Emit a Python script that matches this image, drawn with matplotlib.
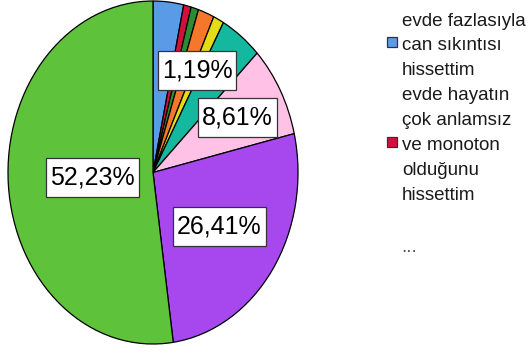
"""Pie chart of survey answers with SPSS-style boxed percentage labels."""

import matplotlib
matplotlib.use('Agg')
import matplotlib.pyplot as plt
import numpy as np
from matplotlib.patches import Rectangle
from matplotlib.path import Path


# slices, clockwise from 12 o'clock
VALUES = [3.40, 0.84, 0.84, 1.80, 1.19, 4.68, 8.61, 26.41, 52.23]
SHOW_LABEL = [False, False, False, False, True, False, True, True, True]
COLORS = ['#5a9be8', '#d3103c', '#2e8b33', '#f4772c', '#e5dc18',
          '#14b89e', '#ffc2e6', '#a648ee', '#5ec23b']

LEGEND_LABELS = [
    'evde fazlasıyla\ncan sıkıntısı\nhissettim',
    'evde hayatın\nçok anlamsız\nve monoton\nolduğunu\nhissettim',
]
LEGEND_COLORS = ['#5a9be8', '#d3103c']

# radial position of each shown label (fraction of radius)
LABEL_DIST = {4: 0.67, 6: 0.665, 7: 0.555, 8: 0.42}

W, H = 529, 354
FONT = ['Liberation Sans', 'DejaVu Sans']


def fx(px):
    return px / W


def fy(py):
    return 1 - py / H


def label_box(x0, y0, width, height, mutation_size):
    """Rectangle with more padding above/below than left/right."""
    px, py = 0.16 * mutation_size, 0.30 * mutation_size
    x1, y1 = x0 + width + px, y0 + height + py
    x0, y0 = x0 - px, y0 - py
    return Path([(x0, y0), (x1, y0), (x1, y1), (x0, y1), (x0, y0)],
                closed=True)


def main():
    plt.rcParams['font.family'] = FONT
    fig = plt.figure(figsize=(W / 100, H / 100), dpi=100)

    # pie is drawn as an ellipse (taller than wide), like the source image
    ax = fig.add_axes([fx(8), fy(344), (298 - 8) / W, (344 - 1) / H])
    wedges, _ = ax.pie(VALUES, colors=COLORS, startangle=90, counterclock=False,
                       wedgeprops=dict(edgecolor='black', linewidth=0.9))
    ax.set_aspect('auto')
    ax.set_xlim(-1, 1)
    ax.set_ylim(-1, 1)
    ax.axis('off')
    for w in wedges:
        w.set_clip_on(False)

    for i, w in enumerate(wedges):
        if not SHOW_LABEL[i]:
            continue
        theta = np.deg2rad((w.theta1 + w.theta2) / 2)
        r = LABEL_DIST[i]
        txt = f'{VALUES[i]:.2f}'.replace('.', ',') + '%'
        ax.text(r * np.cos(theta), r * np.sin(theta), txt,
                ha='center', va='center', fontsize=18, color='black',
                bbox=dict(boxstyle=label_box, facecolor='white',
                          edgecolor='#333333', linewidth=0.9))

    # legend, placed by hand
    tops = [12.5, 87.5]
    marker_tops = [37, 137]
    for label, color, top, mtop in zip(LEGEND_LABELS, LEGEND_COLORS,
                                       tops, marker_tops):
        fig.text(fx(402), fy(top), label, ha='left', va='top',
                 fontsize=13.5, color='#1a1a1a', linespacing=1.6)
        fig.add_artist(Rectangle((fx(387), fy(mtop + 10)), 10 / W, 10 / H,
                                 transform=fig.transFigure, facecolor=color,
                                 edgecolor='#333333', linewidth=0.9))
    fig.text(fx(401), fy(252), '...', ha='left', va='baseline',
             fontsize=13.5, color='#555555')

    fig.savefig('out.png', dpi=100)
    plt.close(fig)


if __name__ == '__main__':
    main()
